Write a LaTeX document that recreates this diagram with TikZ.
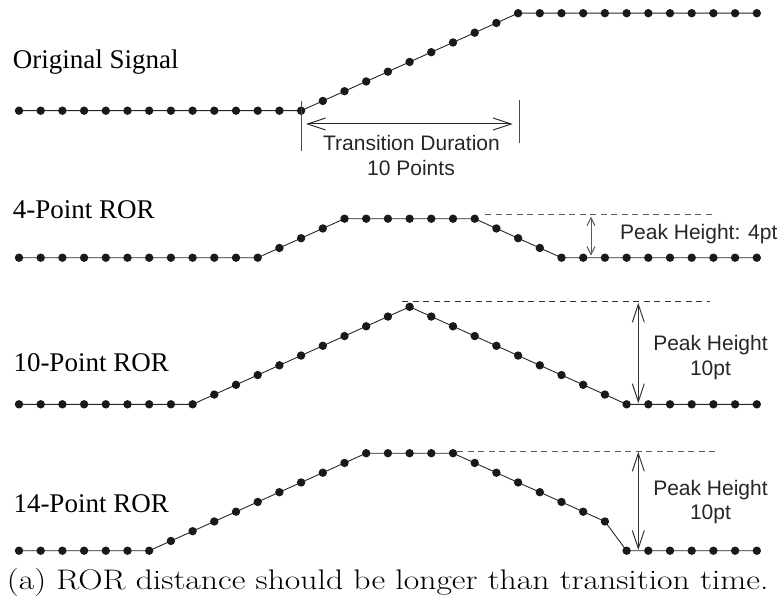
\documentclass[tikz,border=0pt]{standalone}
\usepackage{fontspec}
\usepackage{graphicx}
\usetikzlibrary{arrows.meta}
\newfontfamily\labelserif{Liberation Serif}
\newfontfamily\labelsans{Liberation Sans}

% one row of samples: name, baseline (px), list of 35 values
\newcommand\signalrow[3]{%
  \foreach \v [count=\k from 0] in {#3} {
    \coordinate (#1-\k) at ({19+21.7*\k}, {#2-9.75*\v});
  }
  \draw[sigline] (#1-0) \foreach \k in {1,...,34} { -- (#1-\k) };
  \foreach \k in {0,...,34} { \fill[black!90] (#1-\k) circle (4.2); }
}

\tikzset{
  sigline/.style={line width=0.9pt, black!85},
  rowlabel/.style={anchor=base west, inner sep=0, font=\labelserif\fontsize{27pt}{32pt}\selectfont},
  annotext/.style={anchor=base, inner sep=0, font=\labelsans\fontsize{21pt}{25pt}\selectfont, text=black!85},
  marker/.style={line width=1pt, black!70},
  peakdash/.style={line width=1pt, black!65, dash pattern=on 6pt off 4.5pt},
  bigarrow/.style={line width=1pt, black!80, {Straight Barb[length=18pt,width=12pt]}-{Straight Barb[length=18pt,width=12pt]}},
  smallarrow/.style={line width=1pt, black!65, {Straight Barb[length=8pt,width=8pt]}-{Straight Barb[length=8pt,width=8pt]}},
}

\begin{document}
\begin{tikzpicture}[x=1pt, y=-1pt]
\useasboundingbox (0,0) rectangle (784,607);

% ---------- original signal: a ramp of 10 points ----------
\signalrow{orig}{110.7}{0,0,0,0,0,0,0,0,0,0,0,0,0,0,1,2,3,4,5,6,7,8,9,10,10,10,10,10,10,10,10,10,10,10,10}
\node[rowlabel] (lblorig) at (12.7,68.3) {Original Signal};

\coordinate (ts-top) at (301,101);
\coordinate (ts-bot) at (301,151);
\coordinate (te-top) at (519.3,100);
\coordinate (te-bot) at (519.3,143.3);
\draw[marker] (ts-top) -- (ts-bot);
\draw[marker] (te-top) -- (te-bot);
\coordinate (dur-l) at (306,124);
\coordinate (dur-r) at (512.7,124);
\draw[bigarrow, black!85] (dur-l) -- (dur-r);
\node[annotext] (dur1) at (411.5,150) {Transition Duration};
\node[annotext] (dur2) at (411,175) {10 Points};

% ---------- 4-point ROR ----------
\signalrow{ror4}{257.7}{0,0,0,0,0,0,0,0,0,0,0,0,1,2,3,4,4,4,4,4,4,4,3,2,1,0,0,0,0,0,0,0,0,0,0}
\node[rowlabel] (lbl4) at (12.7,218.3) {4-Point ROR};
\coordinate (d4-l) at (485,214.5);
\coordinate (d4-r) at (713,214.5);
\draw[peakdash] (d4-l) -- (d4-r);
\coordinate (p4-t) at (591,216.7);
\coordinate (p4-b) at (591,255.7);
\draw[smallarrow] (p4-t) -- (p4-b);
\node[annotext, anchor=base west] (pk4) at (620,239.3) {Peak Height: 4pt};

% ---------- 10-point ROR ----------
\signalrow{ror10}{404.3}{0,0,0,0,0,0,0,0,0,1,2,3,4,5,6,7,8,9,10,9,8,7,6,5,4,3,2,1,0,0,0,0,0,0,0}
\node[rowlabel] (lbl10) at (13.3,371) {10-Point ROR};
\coordinate (d10-l) at (402,301);
\coordinate (d10-r) at (710,301);
\draw[peakdash, black!80] (d10-l) -- (d10-r);
\coordinate (p10-t) at (638.3,302.7);
\coordinate (p10-b) at (638.3,403.3);
\draw[bigarrow] (p10-t) -- (p10-b);
\node[annotext] (pk10a) at (710.5,350) {Peak Height};
\node[annotext] (pk10b) at (710.5,375) {10pt};

% ---------- 14-point ROR ----------
\signalrow{ror14}{550.7}{0,0,0,0,0,0,0,1,2,3,4,5,6,7,8,9,10,10,10,10,10,9,8,7,6,5,4,3,0,0,0,0,0,0,0}
\node[rowlabel] (lbl14) at (13.3,512.7) {14-Point ROR};
\coordinate (d14-l) at (457,451);
\coordinate (d14-r) at (718,451);
\draw[peakdash] (d14-l) -- (d14-r);
\coordinate (p14-t) at (638.3,451.7);
\coordinate (p14-b) at (638.3,550);
\draw[bigarrow] (p14-t) -- (p14-b);
\node[annotext] (pk14a) at (710.5,495) {Peak Height};
\node[annotext] (pk14b) at (710.5,519.3) {10pt};

% ---------- caption ----------
\node[anchor=base west, inner sep=0] (caption) at (6.7,589.3)
  {\resizebox{761.6pt}{\height}{\fontsize{28.3pt}{34pt}\selectfont (a) ROR distance should be longer than transition time.}};
\end{tikzpicture}
\end{document}
